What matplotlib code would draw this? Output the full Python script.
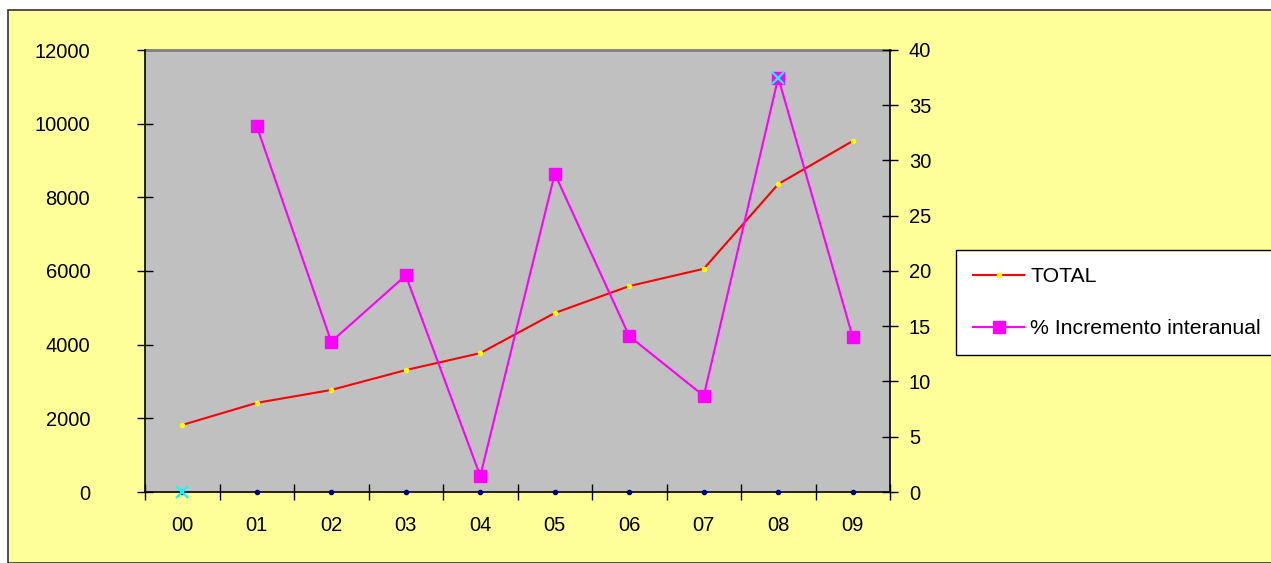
import matplotlib.pyplot as plt
import matplotlib.patches as mpatches
import numpy as np

plt.rcParams['font.family'] = ['Liberation Sans', 'DejaVu Sans']

# Datos
anios = ["00", "01", "02", "03", "04", "05", "06", "07", "08", "09"]
total = [1820, 2420, 2770, 3310, 3770, 4860, 5590, 6060, 8360, 9530]
incremento = [np.nan, 33.1, 13.6, 19.6, 1.45, 28.8, 14.1, 8.7, 37.5, 14.0]
ceros = [0, 0, 0, 0, 0, 0, 0, 0, 0, 0]
marcas_x = [0, np.nan, np.nan, np.nan, np.nan, np.nan, np.nan, np.nan, 37.5, np.nan]

x = np.arange(len(anios))

fig = plt.figure(figsize=(12.71, 5.63), dpi=100)
fig.patch.set_facecolor("white")
# Fondo amarillo del area del grafico con borde
fig.patches.append(mpatches.Rectangle((8 / 1271, 0), 1.0, 1 - 10 / 563, transform=fig.transFigure,
                                      facecolor="#FFFF99", edgecolor="#333333", linewidth=1.2, zorder=-5))

ax1 = fig.add_axes([145 / 1271, 1 - 492 / 563, 745 / 1271, 442 / 563])
ax1.set_facecolor("#C0C0C0")
ax1.plot(x, total, color="red", linewidth=1.5, marker="o", markersize=3,
         markerfacecolor="yellow", markeredgecolor="yellow", label="TOTAL", zorder=3)
ax1.plot(x, ceros, linestyle="none", marker="o", markersize=3, color="#000080", clip_on=False, zorder=4)
ax1.set_xlim(-0.5, 9.5)
ax1.set_ylim(0, 12000)
ax1.set_yticks(range(0, 12001, 2000))
ax1.set_xticks(x)
ax1.set_xticklabels(anios)
ax1.set_xticks(np.arange(-0.5, 10, 1), minor=True)
ax1.tick_params(axis="x", which="major", length=0, pad=17, labelsize=14.5)
ax1.tick_params(axis="x", which="minor", direction="inout", length=11, width=1)
ax1.tick_params(axis="y", direction="inout", length=11, width=1, labelsize=14.5, pad=34)
for s in ["top", "right"]:
    ax1.spines[s].set_visible(False)
ax1.spines["left"].set_linewidth(1.2)
ax1.spines["bottom"].set_linewidth(1.2)

ax2 = ax1.twinx()
ax2.plot(x, incremento, color="magenta", linewidth=1.5, marker="s", markersize=8,
         label="% Incremento interanual", zorder=3)
ax2.plot(x, marcas_x, linestyle="none", marker="x", markersize=8, markeredgewidth=1.6,
         color="cyan", clip_on=False, zorder=5)
ax2.set_ylim(0, 40)
ax2.set_yticks(range(0, 41, 5))
ax2.tick_params(axis="y", direction="inout", length=11, width=1, labelsize=14.5, pad=8)
for s in ["top", "left", "bottom"]:
    ax2.spines[s].set_visible(False)
ax2.spines["right"].set_linewidth(1.2)
ax1.plot([-0.5, 9.5], [12000, 12000], color="#808080", linewidth=2, clip_on=False, zorder=2)

h1, l1 = ax1.get_legend_handles_labels()
h2, l2 = ax2.get_legend_handles_labels()
leg = fig.legend(h1 + h2, l1 + l2, loc="upper left", bbox_to_anchor=(956 / 1271, 1 - 250 / 563),
                 frameon=True, fancybox=False, fontsize=15.3, handlelength=2.4, handletextpad=0.3,
                 labelspacing=1.55, borderpad=0.8, borderaxespad=0, edgecolor="black",
                 facecolor="white", framealpha=1)
leg.get_frame().set_linewidth(1)

fig.savefig("out.png", dpi=100)
